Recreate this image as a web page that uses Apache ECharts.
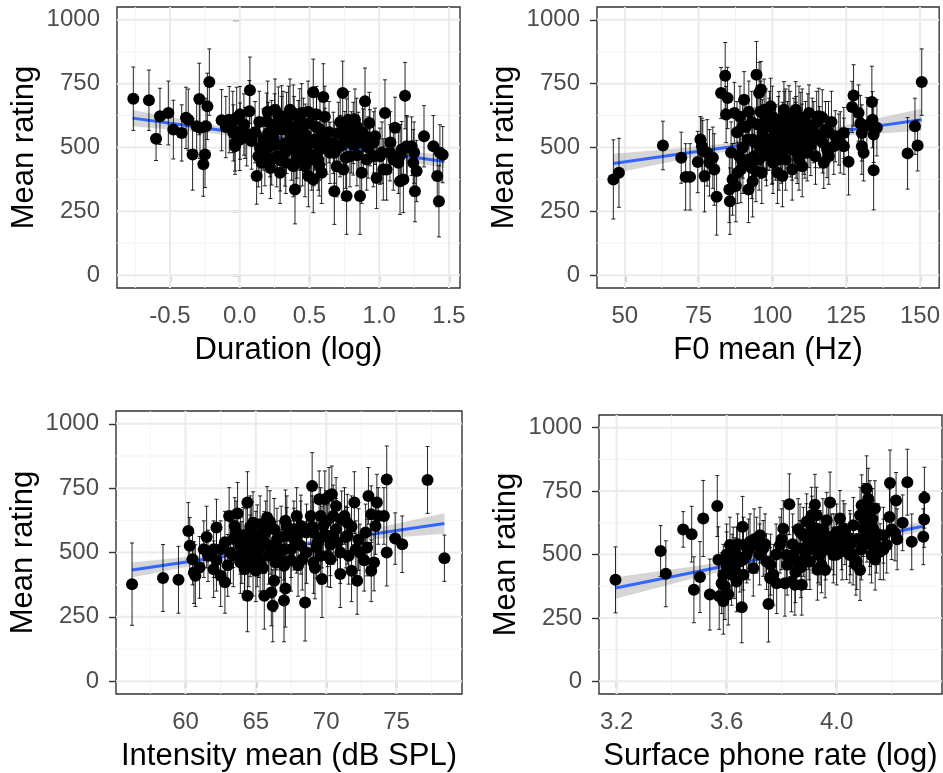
<!DOCTYPE html>
<html><head><meta charset="utf-8">
<script src="https://cdn.jsdelivr.net/npm/echarts@6/dist/echarts.min.js"></script>
<style>html,body{margin:0;padding:0;background:#fff}#c{width:943px;height:773px}</style>
</head><body><div id="c"></div>
<script>
// ---------- data: [x, mean rating, error half-width] ----------
const durPts = [
[-0.763,691,124],[-0.651,685,118],[-0.600,534,85],[-0.572,622,110],[-0.512,635,125],
[-0.476,570,115],[-0.416,557,110],[-0.369,609,120],[-0.338,473,140],[-0.290,690,140],
[-0.309,583,120],[-0.261,434,125],[-0.249,473,130],[-0.232,661,130],[-0.218,756,130],
[-0.242,583,110],[-0.130,607,120],[-0.075,609,130],[-0.046,557,110],[-0.034,518,110],
[-0.022,616,120],[0.002,629,110],[0.073,724,130],[0.069,642,120],[0.038,557,100],
[0.050,538,110],[0.085,525,110],[0.121,388,110],[0.133,466,120],[0.145,499,110],
[0.157,440,120],[0.193,603,110],[0.205,557,120],[0.217,505,120],[0.229,453,100],
[0.253,648,120],[0.277,622,115],[0.289,401,120],[0.300,570,130],[0.324,479,130],
[0.336,518,120],[0.360,557,110],[0.384,635,110],[0.396,336,135],[0.408,453,120],
[0.432,531,120],[0.444,635,115],[0.456,583,110],[0.468,427,120],[0.480,492,120],
[0.492,388,120],[0.504,596,110],[0.527,716,130],[0.527,375,130],[0.539,531,120],
[0.551,629,110],[0.563,453,120],[0.575,570,120],[0.587,401,120],[0.599,698,130],
[0.611,544,110],[0.623,505,110],[0.647,479,120],[0.678,329,130],[0.695,427,120],
[0.719,505,120],[0.738,713,125],[0.743,414,120],[0.754,531,110],[0.766,310,150],
[0.778,609,110],[0.790,466,120],[0.814,557,120],[0.838,583,110],[0.850,518,120],
[0.862,310,150],[0.874,401,120],[0.898,681,130],[0.910,453,120],[0.929,596,120],
[0.934,538,110],[0.970,544,110],[0.981,381,120],[1.005,466,110],[1.041,635,130],
[1.029,414,120],[1.077,479,110],[1.113,577,120],[1.137,440,120],[1.149,368,130],
[1.161,492,110],[1.185,703,130],[1.173,375,130],[1.197,505,120],[1.232,505,115],
[1.244,440,130],[1.256,329,120],[1.268,408,120],[1.321,544,120],[1.388,505,120],
[1.416,388,120],[1.428,290,140],[1.435,479,110],[1.455,472,110],
[0.169,531,120],[0.241,544,120],[0.336,596,120],[0.372,492,120],[0.420,564,120],
[0.432,466,120],[0.461,505,120],[0.516,453,120],[0.551,518,120],[0.575,492,120],
[0.384,427,120],[0.265,466,120],[0.229,564,120],[0.300,622,120],[0.360,648,120],
[-0.385,616,120],[-0.285,577,120],[0.002,564,110],[-0.034,505,110],[0.814,512,120],
[0.766,570,120],[0.886,531,120],[0.958,466,120],[0.671,518,120],[0.707,557,120],
[0.826,609,120],[1.101,453,120],[1.053,414,120],
[0.11,560,120],[0.14,600,120],[0.18,470,120],[0.20,640,120],[0.22,420,120],[0.25,590,120],
[0.27,510,120],[0.29,450,120],[0.31,600,120],[0.33,440,120],[0.35,620,120],[0.37,530,120],
[0.39,580,120],[0.41,500,120],[0.43,610,120],[0.45,470,120],[0.47,550,120],[0.49,640,120],
[0.51,520,120],[0.53,470,120],[0.55,580,120],[0.57,430,120],[0.59,510,120],[0.61,620,120],
[0.64,560,120],[0.68,480,120],[0.72,600,120],[0.76,460,120],[0.80,520,120],[0.84,470,120],
[0.88,560,120],[0.92,500,120],[0.96,520,120],[1.02,480,120],[1.08,520,120],[1.15,470,120],
[1.20,500,120],[1.25,480,120],[-0.10,580,120],[-0.05,600,120],[0.03,590,120],[0.00,530,120]
];
const f0Pts = [
[46.1,375,155],[48.0,401,135],[62.9,508,95],[69.1,460,100],[70.6,385,130],[72.1,385,130],
[74.7,443,120],[75.6,531,90],[76.1,505,110],[76.4,486,120],[77.0,388,140],[77.9,479,130],
[78.7,440,130],[79.8,460,120],[80.3,414,140],[81.1,307,150],[82.6,713,100],[84.0,781,130],
[84.3,629,110],[84.8,694,120],[85.4,336,130],[85.6,290,130],[86.5,375,140],[87.1,635,120],
[87.6,349,140],[88.2,401,120],[88.8,466,110],[89.3,414,130],[89.9,583,110],[90.4,687,110],
[91.6,531,120],[91.9,336,130],[93.3,368,140],[93.8,466,120],[94.4,408,120],[94.6,785,130],
[95.5,713,120],[96.1,727,110],[96.4,401,120],[96.6,557,130],[97.2,648,120],[97.8,492,120],
[98.3,531,120],[98.9,583,110],[99.4,661,110],[99.8,466,110],[100.2,440,120],[100.6,505,110],
[101.1,557,110],[101.7,401,120],[102.2,609,110],[102.8,518,120],[103.4,388,120],[103.9,648,110],
[104.5,453,120],[105.1,570,110],[105.6,622,120],[106.2,505,120],[106.7,414,120],[107.3,583,110],
[107.9,648,110],[108.4,479,120],[109.0,531,110],[109.6,596,120],[110.1,427,120],[110.7,505,110],
[111.2,570,110],[111.8,479,110],[112.4,531,110],[113.5,583,110],[114.6,531,110],[115.7,622,110],
[116.9,616,110],[117.4,440,100],[118.0,570,110],[118.5,492,110],[119.1,466,110],[120.8,505,110],
[121.3,544,100],[122.5,531,100],[124.2,505,110],[124.2,557,100],[125.8,444,130],[127.5,704,120],
[127.0,659,100],[129.2,635,110],[129.8,594,110],[130.3,557,110],[130.3,505,110],[130.9,479,110],
[132.0,586,110],[133.7,678,140],[133.9,609,110],[134.3,551,110],[134.3,411,155],[135.4,577,110],
[145.8,477,140],[148.3,583,110],[149.2,508,100],[150.6,756,130],
[98.9,531,120],[101.1,492,120],[103.4,557,120],[105.6,531,120],[107.9,557,120],[104.5,609,120],
[97.8,609,120],[110.1,609,120],[112.4,635,110],[106.7,492,120],[102.2,453,120],[95.5,453,120],
[93.3,531,120],[92.1,453,120],[114.6,466,110],[109.0,453,120],
[86,480,120],[88,560,120],[89,620,120],[90,500,120],[91,580,120],[92,640,120],[93,600,120],
[94,520,120],[95,590,120],[96,640,120],[97,540,120],[98,470,120],[99,600,120],[100,620,120],
[101,540,120],[102,580,120],[103,480,120],[104,600,120],[105,540,120],[106,600,120],[107,520,120],
[108,580,120],[109,620,120],[110,550,120],[111,500,120],[112,590,120],[113,510,120],[114,560,120],
[115,600,120],[116,540,120],[117,520,120],[119,560,120],[120,600,120],[123,520,120],[100,480,120],
[96,500,120],[93,420,120],[90,440,120],[104,500,120],[108,500,120]
];
const intPts = [
[56.2,377,160],[58.4,401,130],[59.5,394,130],[60.2,584,110],[60.3,526,110],[60.5,474,100],
[60.6,422,120],[60.7,410,120],[61.0,442,120],[61.3,513,110],[61.6,487,100],[62.0,435,110],
[62.2,597,110],[62.5,513,110],[62.8,384,120],[63.1,642,110],[63.4,552,110],[63.5,603,110],
[63.7,652,120],[63.9,526,110],[64.1,565,110],[64.2,435,120],[64.4,694,120],[64.4,332,140],
[64.5,487,120],[64.6,526,120],[64.7,578,120],[64.8,461,130],[65.0,429,120],[65.1,565,120],
[65.2,513,110],[65.3,610,110],[65.6,332,130],[65.8,636,120],[65.9,487,110],[66.0,526,110],
[66.1,345,130],[66.2,293,140],[66.3,390,120],[66.4,461,110],[66.5,552,120],[66.7,513,110],
[67.0,448,120],[67.1,623,120],[67.1,360,150],[67.0,313,160],[67.2,565,110],[67.5,513,110],
[67.7,590,110],[67.9,642,110],[68.2,526,110],[68.3,474,120],[68.5,306,150],[68.6,578,110],
[68.9,642,110],[69.0,758,130],[69.1,461,120],[69.4,539,110],[69.5,707,110],[69.6,487,110],
[69.7,397,150],[69.8,603,110],[69.9,707,110],[70.1,565,120],[70.2,720,110],[70.3,474,110],
[70.4,726,110],[70.5,642,120],[70.7,681,110],[70.8,539,110],[71.0,416,130],[71.1,629,110],
[71.3,642,110],[71.5,565,110],[71.6,487,110],[71.8,429,120],[72.0,694,120],[72.1,513,110],
[72.2,390,130],[72.4,500,110],[72.8,578,110],[72.9,519,110],[73.0,720,110],[73.2,649,110],
[73.2,429,120],[73.4,461,110],[73.5,603,110],[73.6,694,110],[73.7,642,110],[74.1,642,110],
[74.3,784,130],[74.3,500,130],[74.9,554,100],[75.4,532,110],[77.2,782,130],[78.4,478,90],
[65.1,487,120],[65.6,539,120],[64.8,616,120],[66.3,590,120],[67.0,513,120],[67.7,552,120],
[68.2,603,120],[69.1,578,120],[69.6,642,110],[70.5,565,110],[63.9,461,120],[63.4,487,120],
[62.5,410,120],[62.0,513,110],[70.1,487,120],[71.5,616,110],
[61.5,560,120],[62.2,470,120],[62.8,540,120],[63.2,500,120],[63.6,580,120],[64.0,500,120],
[64.3,550,120],[64.6,600,120],[65.0,540,120],[65.3,470,120],[65.7,580,120],[66.0,620,120],
[66.4,500,120],[66.8,560,120],[67.2,600,120],[67.5,470,120],[67.9,540,120],[68.2,580,120],
[68.6,500,120],[69.0,600,120],[69.3,520,120],[69.7,560,120],[70.0,620,120],[70.3,530,120],
[70.7,590,120],[71.0,500,120],[71.4,560,120],[71.8,600,120],[72.3,550,120],[72.7,470,120],
[64.2,470,120],[65.5,440,120],[66.8,470,120],[68.0,450,120],[69.2,440,120],[63.0,450,120]
];
const ratePts = [
[3.196,400,130],[3.360,514,100],[3.379,424,130],[3.442,599,70],[3.473,580,110],[3.481,361,130],
[3.503,411,140],[3.515,642,150],[3.539,342,140],[3.566,691,120],[3.570,479,130],[3.573,335,130],
[3.582,387,120],[3.588,316,130],[3.594,374,130],[3.600,459,130],[3.606,342,120],[3.612,537,110],
[3.618,420,120],[3.624,498,110],[3.630,446,120],[3.636,394,120],[3.648,472,120],[3.655,292,140],
[3.658,609,120],[3.661,420,120],[3.673,498,110],[3.685,550,110],[3.697,446,110],[3.709,537,110],
[3.721,576,110],[3.733,524,110],[3.745,472,110],[3.752,305,150],[3.758,407,120],[3.770,420,120],
[3.782,387,120],[3.794,537,110],[3.806,602,110],[3.812,387,130],[3.818,498,110],[3.828,698,120],
[3.836,394,120],[3.848,381,120],[3.855,472,110],[3.867,524,110],[3.873,381,120],[3.879,576,110],
[3.885,485,110],[3.891,629,110],[3.897,550,110],[3.903,472,110],[3.909,655,110],[3.915,537,110],
[3.921,696,120],[3.927,602,110],[3.933,498,110],[3.939,563,110],[3.945,459,110],[3.958,439,110],
[3.964,635,110],[3.976,705,120],[3.982,550,110],[3.988,498,110],[4.000,589,110],[4.012,642,110],
[4.018,550,110],[4.024,602,110],[4.036,511,110],[4.048,563,110],[4.061,615,110],[4.073,472,110],
[4.085,439,120],[4.091,694,120],[4.097,550,110],[4.103,629,120],[4.109,759,130],[4.115,720,120],
[4.121,681,110],[4.127,498,110],[4.133,602,110],[4.139,681,110],[4.145,537,110],[4.158,511,110],
[4.170,576,110],[4.182,537,110],[4.192,648,110],[4.194,782,130],[4.212,585,110],[4.216,713,110],
[4.240,625,110],[4.257,785,130],[4.273,550,110],[4.315,570,110],[4.318,638,110],[4.319,724,120],
[3.879,524,110],[3.903,576,110],[3.927,655,110],[3.952,537,110],[4.097,602,110],[4.121,563,110],
[4.085,655,110],[4.048,498,110],[3.867,589,110],[3.842,498,110],[3.891,472,110],[3.636,498,110],
[3.661,537,110],[3.588,420,120],
[3.60,500,120],[3.62,460,120],[3.64,540,120],[3.66,480,120],[3.68,520,120],[3.70,560,120],
[3.72,500,120],[3.74,540,120],[3.76,460,120],[3.78,500,120],[3.80,560,120],[3.82,460,120],
[3.84,540,120],[3.86,600,120],[3.87,450,120],[3.89,580,120],[3.90,520,120],[3.91,610,120],
[3.92,560,120],[3.94,500,120],[3.95,600,120],[3.96,520,120],[3.97,570,120],[3.99,540,120],
[4.00,500,120],[4.02,520,120],[4.03,580,120],[4.05,540,120],[4.06,500,120],[4.08,560,120],
[4.09,520,120],[4.10,660,120],[4.11,590,120],[4.12,540,120],[4.13,640,120],[4.14,480,120],
[4.15,580,120],[4.17,520,120],[4.20,600,120],[4.22,560,120],[3.85,430,120],[3.93,440,120],
[4.07,460,120]
];
// linear fits: x, fitted y, CI half-width
const durFitX = [-0.768,-0.209,0.350,0.908,1.467], durFitY = [615,573,530,487,445], durFitH = [32,17,10,15,25];
const f0FitX = [46.1,72.2,98.35,124.5,150.6], f0FitY = [437,480,523,566,609], f0FitH = [39,20,11,20,43];
const intFitX = [56.2,61.75,67.3,72.85,78.4], intFitY = [432,477,522,568,613], intFitH = [29,15,10,18,40];
const rateFitX = [3.196,3.477,3.757,4.038,4.319], rateFitY = [368,429,490,551,612], rateFitH = [42,24,12,10,20];
// ticks
const yTicks = [0,250,500,750,1000], yMinorTicks = [125,375,625,875];
const durTicks = [-0.5,0,0.5,1,1.5], durMinor = [-0.75,-0.25,0.25,0.75,1.25];
const f0Ticks = [50,75,100,125,150], f0Minor = [62.5,87.5,112.5,137.5];
const intTicks = [60,65,70,75], intMinor = [57.5,62.5,67.5,72.5,77.5];
const rateTicks = [3.2,3.6,4.0], rateMinor = [3.4,3.8,4.2];
const xTitles = ['Duration (log)','F0 mean (Hz)','Intensity mean (dB SPL)','Surface phone rate (log)'];
const yTitle = 'Mean rating';

// ---------- layout ----------
const FONT = "'Liberation Sans', Arial, sans-serif";
const yRange = [-50,1050];
const panels = [
  {pts:durPts, fx:durFitX, fy:durFitY, fh:durFitH, ticks:durTicks, minor:durMinor, xr:[-0.88,1.579], dec:1,
   grid:{left:117, top:7, width:343, height:281}},
  {pts:f0Pts, fx:f0FitX, fy:f0FitY, fh:f0FitH, ticks:f0Ticks, minor:f0Minor, xr:[40.56,156.5], dec:0,
   grid:{left:597, top:7, width:344, height:281}},
  {pts:intPts, fx:intFitX, fy:intFitY, fh:intFitH, ticks:intTicks, minor:intMinor, xr:[55.06,79.65], dec:0,
   grid:{left:116, top:411, width:346, height:284}},
  {pts:ratePts, fx:rateFitX, fy:rateFitY, fh:rateFitH, ticks:rateTicks, minor:rateMinor, xr:[3.136,4.383], dec:1,
   grid:{left:599, top:415, width:343, height:281}}
];

const grids = [], xAxes = [], yAxes = [], series = [];
panels.forEach((p, i) => {
  grids.push(Object.assign({show:true, borderColor:'#333333', borderWidth:1.4, backgroundColor:'#fff', containLabel:false}, p.grid));
  xAxes.push({
    type:'value', gridIndex:i, min:p.xr[0], max:p.xr[1],
    axisLine:{show:false}, splitLine:{show:false},
    axisTick:{show:true, customValues:p.ticks, length:7, lineStyle:{color:'#333333', width:1.4}},
    axisLabel:{customValues:p.ticks, color:'#4D4D4D', fontSize:24, fontFamily:FONT, margin:16,
      formatter:v => Number(v).toFixed(p.dec)},
    name:xTitles[i], nameLocation:'middle', nameGap:47,
    nameTextStyle:{color:'#000', fontSize:31, fontFamily:FONT}
  });
  yAxes.push({
    type:'value', gridIndex:i, min:yRange[0], max:yRange[1],
    axisLine:{show:false}, splitLine:{show:false},
    axisTick:{show:true, customValues:yTicks, length:7, lineStyle:{color:'#333333', width:1.4}},
    axisLabel:{customValues:yTicks, color:'#4D4D4D', fontSize:24, fontFamily:FONT, margin:17,
      formatter:v => String(Math.round(v))},
    name:yTitle, nameLocation:'middle', nameGap:77,
    nameTextStyle:{color:'#000', fontSize:31, fontFamily:FONT}
  });
  // grid lines
  const gl = [];
  p.minor.forEach(v => gl.push({d:'x', v, m:0}));
  yMinorTicks.forEach(v => gl.push({d:'y', v, m:0}));
  p.ticks.forEach(v => gl.push({d:'x', v, m:1}));
  yTicks.forEach(v => gl.push({d:'y', v, m:1}));
  series.push({
    type:'custom', xAxisIndex:i, yAxisIndex:i, silent:true, z:1, animation:false,
    data: gl.map(l => l.d === 'x' ? [l.v, 500] : [0, l.v]),
    encode:{x:0, y:1},
    renderItem:(params, api) => {
      const l = gl[params.dataIndex];
      let a, b;
      if (l.d === 'x') { a = api.coord([l.v, yRange[0]]); b = api.coord([l.v, yRange[1]]); }
      else { a = api.coord([p.xr[0], l.v]); b = api.coord([p.xr[1], l.v]); }
      return {type:'line', shape:{x1:a[0], y1:a[1], x2:b[0], y2:b[1]},
        style:{stroke: l.m ? '#EBEBEB' : '#F3F3F3', lineWidth: l.m ? 2 : 1}};
    }
  });
  // CI ribbon
  series.push({
    type:'custom', xAxisIndex:i, yAxisIndex:i, silent:true, z:2, animation:false,
    data:[[p.fx[0], p.fy[0]]], encode:{x:0, y:1},
    renderItem:(params, api) => {
      const up = p.fx.map((x, k) => api.coord([x, p.fy[k] + p.fh[k]]));
      const lo = p.fx.map((x, k) => api.coord([x, p.fy[k] - p.fh[k]])).reverse();
      return {type:'polygon', shape:{points: up.concat(lo)}, style:{fill:'rgba(153,153,153,0.4)'}};
    }
  });
  // fit line
  series.push({
    type:'line', xAxisIndex:i, yAxisIndex:i, silent:true, z:3, animation:false,
    data:p.fx.map((x, k) => [x, p.fy[k]]), symbol:'none',
    lineStyle:{color:'#3366FF', width:3}
  });
  // error bars
  series.push({
    type:'custom', xAxisIndex:i, yAxisIndex:i, silent:true, z:4, animation:false,
    data:p.pts.map(d => [d[0], d[1] - d[2], d[1] + d[2]]), encode:{x:0, y:[1, 2]},
    renderItem:(params, api) => {
      const x = api.value(0);
      const a = api.coord([x, api.value(1)]), b = api.coord([x, api.value(2)]);
      const st = {stroke:'rgba(0,0,0,0.85)', lineWidth:1};
      return {type:'group', children:[
        {type:'line', shape:{x1:a[0], y1:a[1], x2:b[0], y2:b[1]}, style:st},
        {type:'line', shape:{x1:a[0]-2, y1:a[1], x2:a[0]+2, y2:a[1]}, style:st},
        {type:'line', shape:{x1:b[0]-2, y1:b[1], x2:b[0]+2, y2:b[1]}, style:st}
      ]};
    }
  });
  // points
  series.push({
    type:'scatter', xAxisIndex:i, yAxisIndex:i, silent:true, z:5, animation:false,
    data:p.pts.map(d => [d[0], d[1]]), symbolSize:12, itemStyle:{color:'#000', opacity:1}
  });
});

const chart = echarts.init(document.getElementById('c'), null, {renderer:'canvas'});
chart.setOption({
  animation:false, backgroundColor:'#fff',
  textStyle:{fontFamily:FONT},
  grid:grids, xAxis:xAxes, yAxis:yAxes, series:series
});
</script></body></html>
